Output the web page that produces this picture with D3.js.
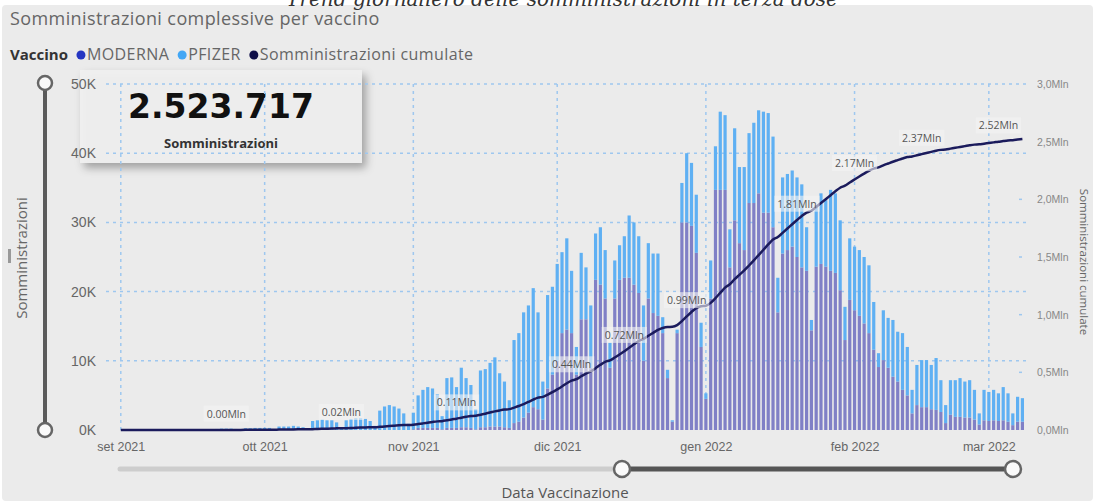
<!DOCTYPE html>
<html lang="it">
<head>
<meta charset="utf-8">
<title>Somministrazioni complessive per vaccino</title>
<script src="https://cdn.jsdelivr.net/npm/d3@7"></script>
<style>
  html, body { margin: 0; padding: 0; background: #fff; }
  svg { display: block; font-family: "Open Sans", "Noto Sans", sans-serif; }
</style>
</head>
<body>
<div id="chart"></div>
<script>
// ---- Dati (migliaia di dosi al giorno, dal 1 set 2021 all'8 mar 2022) ----
const startDate = new Date(2021, 8, 1);

const modernaValues = [
  // set
  0, 0, 0, 0, 0, 0, 0, 0, 0, 0, 0, 0, 0, 0, 0, 0, 0, 0, 0, 0, 0, 0, 0, 0, 0, 0, 0, 0, 0, 0,
  // ott
  0, 0, 0, 0, 0, 0, 0, 0, 0, 0, 0, 0, 0, 0, 0, 0, 0, 0, 0, 0, 0, 0, 0, 0, 0, 0, 0, 0, 0, 0, 0,
  // nov
  0.1, 0.3, 0.3, 0.3, 0.3, 0.3, 0.1, 0.3, 0.3, 0.3, 0.4, 0.4, 0.3, 0.1, 0.4, 0.4, 0.5, 0.5, 0.5, 0.4, 0.3,
  1.0, 1.2, 1.8, 2.5, 3.3, 3.0, 1.5, 6.0, 8.0,
  // dic
  10.0, 14.0, 14.5, 14.0, 8.0, 16.0, 16.0, 9.0, 21.7, 21.0, 19.0, 9.0, 19.0, 21.7, 22.0, 22.0, 21.0, 19.8, 10.0,
  19.0, 16.9, 16.5, 14.0, 7.5, 1.2, 14.0, 30.0, 30.0, 29.5, 25.6, 12.0,
  // gen
  4.5, 19.0, 34.7, 34.7, 34.7, 23.5, 30.3, 27.0, 26.0, 32.8, 32.8, 34.2, 31.4, 31.4, 29.3, 17.0,
  25.5, 26.0, 26.5, 25.0, 23.5, 23.0, 14.4, 23.6, 24.0, 23.6, 23.0, 22.7, 20.2, 13.0, 18.8,
  // feb
  17.3, 16.5, 15.4, 14.0, 11.6, 9.1, 10.1, 9.0, 7.7, 7.0, 5.8, 5.0, 2.4, 3.6, 3.3, 3.3, 3.0, 2.9, 2.6, 1.0,
  2.2, 1.9, 1.9, 1.8, 1.8, 1.5, 0.8, 1.4,
  // mar
  1.3, 1.4, 1.3, 1.4, 1.2, 0.7, 1.2, 1.2
];

const pfizerValues = [
  // set
  0, 0, 0, 0, 0, 0, 0, 0, 0, 0, 0, 0, 0, 0, 0, 0, 0, 0, 0,
  0.1, 0.15, 0.2, 0.2, 0.2, 0.15, 0.05, 0.25, 0.25, 0.3, 0.3,
  // ott
  0.3, 0.3, 0.1, 0.5, 0.5, 0.5, 0.6, 0.5, 0.4, 0.2, 1.3, 1.4, 1.5, 1.4, 1.4, 1.1, 0.4,
  1.4, 1.6, 1.7, 1.7, 1.6, 1.3, 0.6, 2.8, 3.4, 3.6, 3.4, 3.1, 2.4, 0.9,
  // nov
  2.4, 4.7, 5.5, 5.9, 5.7, 4.9, 1.9, 7.2, 7.3, 5.9, 8.6, 7.1, 6.2, 2.9, 8.2, 8.4, 9.2, 10.0, 7.7, 6.6, 4.0,
  12.0, 12.8, 15.2, 15.5, 17.2, 14.0, 5.5, 13.5, 12.7,
  // dic
  14.0, 11.7, 13.2, 9.0, 4.0, 9.6, 7.5, 9.0, 6.7, 8.3, 7.0, 3.6, 5.5, 5.0, 6.0, 9.0, 9.0, 8.2, 8.0,
  8.0, 8.6, 9.0, 2.3, 1.2, 0.2, 0.5, 5.7, 10.0, 9.1, 8.4, 3.5,
  // gen
  0.8, 5.5, 6.3, 11.3, 10.8, 5.5, 13.3, 11.0, 12.0, 10.1, 11.6, 12.0, 14.6, 14.4, 13.1, 5.0,
  11.0, 11.0, 11.0, 11.5, 12.0, 6.3, 1.5, 8.9, 10.2, 9.6, 11.7, 11.5, 10.1, 4.8, 8.9,
  // feb
  9.2, 9.5, 9.6, 9.8, 6.9, 2.0, 7.2, 7.2, 8.2, 7.2, 8.2, 7.0, 3.4, 5.8, 6.8, 6.8, 6.4, 7.5, 4.6, 2.6,
  5.0, 5.3, 5.6, 5.2, 5.4, 4.3, 1.6, 4.4,
  // mar
  4.2, 4.4, 4.0, 4.8, 4.1, 1.7, 3.6, 3.4
];

const seriesNames = ["MODERNA", "PFIZER"];
const seriesColors = ["#8080c6", "#5fb0f3"];
const legendNames = ["MODERNA", "PFIZER", "Somministrazioni cumulate"];
const legendColors = ["#2536c2", "#42a7f5", "#10104a"];

const yTicks = [0, 10, 20, 30, 40, 50];
const y2Ticks = [0, 500, 1000, 1500, 2000, 2500, 3000];

// etichette dati sulla linea cumulata
const labelDates = ["2021-09-23", "2021-10-17", "2021-11-10", "2021-12-04", "2021-12-15",
  "2021-12-28", "2022-01-20", "2022-02-01", "2022-02-15", "2022-03-03"];
const labelTexts = ["0.00Mln", "0.02Mln", "0.11Mln", "0.44Mln", "0.72Mln",
  "0.99Mln", "1.81Mln", "2.17Mln", "2.37Mln", "2.52Mln"];

const kpiTotal = "2.523.717";

const itLocale = d3.timeFormatLocale({
  dateTime: "%A %e %B %Y, %X", date: "%d/%m/%Y", time: "%H:%M:%S", periods: ["AM", "PM"],
  days: ["domenica", "lunedì", "martedì", "mercoledì", "giovedì", "venerdì", "sabato"],
  shortDays: ["dom", "lun", "mar", "mer", "gio", "ven", "sab"],
  months: ["gennaio", "febbraio", "marzo", "aprile", "maggio", "giugno", "luglio", "agosto",
    "settembre", "ottobre", "novembre", "dicembre"],
  shortMonths: ["gen", "feb", "mar", "apr", "mag", "giu", "lug", "ago", "set", "ott", "nov", "dic"]
});

class VaccineChart {
  constructor(containerId, options = {}) {
    this.container = d3.select(`#${containerId}`);
    this.options = {
      width: 1093,
      height: 501,
      left: 110,
      right: 1026,
      top: 84,
      bottom: 430,
      ...options
    };
    this.init();
  }

  init() {
    const o = this.options;
    this.container.html('');
    this.svg = this.container.append('svg')
      .attr('width', o.width)
      .attr('height', o.height);

    this.dates = d3.timeDay.range(startDate, d3.timeDay.offset(startDate, modernaValues.length));
    this.rows = this.dates.map((d, i) => ({ date: d, MODERNA: modernaValues[i], PFIZER: pfizerValues[i] }));
    this.cumulative = Array.from(d3.cumsum(this.rows, r => r.MODERNA + r.PFIZER));

    this.x = d3.scaleTime()
      .domain([new Date(2021, 7, 29, 18), new Date(2022, 2, 8, 18)])
      .range([o.left, o.right]);
    this.y = d3.scaleLinear().domain([0, 50]).range([o.bottom, o.top]);
    this.y2 = d3.scaleLinear().domain([0, 3000]).range([o.bottom, o.top]);

    this.drawFrame();
    this.drawLegend();
    this.drawKpi();
    this.drawGrid();
    this.drawBars();
    this.drawLine();
    this.drawAxes();
    this.drawSliders();
  }

  drawFrame() {
    const o = this.options;
    this.svg.append('rect')
      .attr('x', 2).attr('y', 5)
      .attr('width', o.width - 2).attr('height', o.height - 5)
      .attr('rx', 4)
      .attr('fill', '#ebebeb');

    // titolo della pagina, tagliato in alto come nell'originale
    this.svg.append('text')
      .attr('x', 562).attr('y', 6)
      .attr('text-anchor', 'middle')
      .style('font-family', '"DejaVu Serif", serif')
      .style('font-style', 'italic')
      .style('font-size', '20px')
      .attr('fill', '#333')
      .text('Trend giornaliero delle somministrazioni in terza dose');

    this.svg.append('text')
      .attr('x', 10).attr('y', 25)
      .style('font-size', '18px')
      .style('letter-spacing', '0.4px')
      .attr('fill', '#666')
      .text('Somministrazioni complessive per vaccino');
  }

  drawLegend() {
    const g = this.svg.append('g').attr('transform', 'translate(10,60)');
    const head = g.append('text')
      .style('font-size', '15px')
      .style('font-weight', 'bold')
      .attr('fill', '#333')
      .text('Vaccino');
    let cx = head.node().getComputedTextLength() + 13;
    legendNames.forEach((name, i) => {
      g.append('circle')
        .attr('cx', cx).attr('cy', -5).attr('r', 4.5)
        .attr('fill', legendColors[i]);
      const t = g.append('text')
        .attr('x', cx + 6)
        .style('font-size', '16px')
        .style('letter-spacing', '0.4px')
        .attr('fill', '#666')
        .text(name);
      cx += 6 + t.node().getComputedTextLength() + 13;
    });
  }

  drawKpi() {
    const defs = this.svg.append('defs');
    const f = defs.append('filter').attr('id', 'shadow')
      .attr('x', '-10%').attr('y', '-10%').attr('width', '130%').attr('height', '140%');
    f.append('feDropShadow')
      .attr('dx', 4).attr('dy', 5)
      .attr('stdDeviation', 4)
      .attr('flood-color', '#000')
      .attr('flood-opacity', 0.35);

    this.svg.append('rect')
      .attr('x', 80).attr('y', 70)
      .attr('width', 282).attr('height', 93)
      .attr('fill', '#f1f1f1')
      .attr('fill-opacity', 0.9)
      .attr('filter', 'url(#shadow)');

    this.svg.append('text')
      .attr('x', 221).attr('y', 118)
      .attr('text-anchor', 'middle')
      .style('font-family', '"DejaVu Sans", sans-serif')
      .style('font-weight', 'bold')
      .style('font-size', '33px')
      .attr('fill', '#111')
      .text(kpiTotal);

    this.svg.append('text')
      .attr('x', 221).attr('y', 148)
      .attr('text-anchor', 'middle')
      .style('font-weight', 'bold')
      .style('font-size', '13px')
      .attr('fill', '#333')
      .text('Somministrazioni');
  }

  drawGrid() {
    const o = this.options;
    const grid = this.svg.append('g').attr('class', 'grid')
      .attr('stroke', '#9ec7ef')
      .attr('stroke-width', 1.5)
      .attr('stroke-dasharray', '3,4');

    grid.selectAll('line.h')
      .data(yTicks.filter(t => t > 0))
      .join('line')
      .attr('class', 'h')
      .attr('x1', 106).attr('x2', o.right)
      .attr('y1', d => this.y(d)).attr('y2', d => this.y(d));

    this.months = d3.timeMonth.range(new Date(2021, 8, 1), new Date(2022, 2, 2));
    grid.selectAll('line.v')
      .data(this.months)
      .join('line')
      .attr('class', 'v')
      .attr('x1', d => this.x(d)).attr('x2', d => this.x(d))
      .attr('y1', o.top).attr('y2', o.bottom);

    // trattini dell'asse secondario
    grid.selectAll('line.t')
      .data(y2Ticks.filter(t => t > 0 && t < 2500))
      .join('line')
      .attr('class', 't')
      .attr('x1', o.right - 7).attr('x2', o.right)
      .attr('y1', d => this.y2(d)).attr('y2', d => this.y2(d));
  }

  drawBars() {
    const stacked = d3.stack().keys(seriesNames)(this.rows);
    const barW = 3.2;
    this.svg.append('g').attr('class', 'bars')
      .selectAll('g')
      .data(stacked)
      .join('g')
      .attr('fill', (d, i) => seriesColors[i])
      .selectAll('rect')
      .data(d => d)
      .join('rect')
      .attr('x', d => this.x(d.data.date) - barW / 2)
      .attr('width', barW)
      .attr('y', d => this.y(d[1]))
      .attr('height', d => Math.max(0, this.y(d[0]) - this.y(d[1])));
  }

  drawLine() {
    const line = d3.line()
      .x((d, i) => this.x(this.dates[i]))
      .y(d => this.y2(d))
      .curve(d3.curveMonotoneX);

    this.svg.append('path')
      .datum(this.cumulative)
      .attr('fill', 'none')
      .attr('stroke', '#1b1b5c')
      .attr('stroke-width', 2.5)
      .attr('d', line);

    // etichette sulla linea
    const parse = d3.timeParse('%Y-%m-%d');
    const labels = this.svg.append('g').attr('class', 'data-labels');
    labelDates.forEach((ds, k) => {
      const d = parse(ds);
      const i = d3.timeDay.count(startDate, d);
      const cx = this.x(d);
      const cy = this.y2(this.cumulative[i]) - 16;
      const g = labels.append('g');
      const bg = g.append('rect');
      const t = g.append('text')
        .attr('x', cx).attr('y', cy)
        .attr('dy', '0.35em')
        .attr('text-anchor', 'middle')
        .style('font-size', '10.5px')
        .attr('fill', '#555')
        .text(labelTexts[k]);
      const bb = t.node().getBBox();
      bg.attr('x', bb.x - 3).attr('y', bb.y - 1)
        .attr('width', bb.width + 6).attr('height', bb.height + 2)
        .attr('fill', '#f4f4f4').attr('fill-opacity', 0.6);
    });
  }

  drawAxes() {
    const o = this.options;

    const yAxis = this.svg.append('g')
      .attr('transform', 'translate(100,0)')
      .call(d3.axisLeft(this.y).tickValues(yTicks).tickSize(0).tickPadding(4).tickFormat(d => d + 'K'));
    yAxis.select('.domain').remove();
    yAxis.selectAll('text').style('font-size', '14px').attr('fill', '#666');

    const y2Axis = this.svg.append('g')
      .attr('transform', `translate(${o.right + 8},0)`)
      .call(d3.axisRight(this.y2).tickValues(y2Ticks).tickSize(0).tickPadding(3)
        .tickFormat(d => (d / 1000).toFixed(1).replace('.', ',') + 'Mln'));
    y2Axis.select('.domain').remove();
    y2Axis.selectAll('text').style('font-size', '10.5px').attr('fill', '#888');

    const fmt = itLocale.format('%b %Y');
    const xAxis = this.svg.append('g')
      .attr('transform', `translate(0,${o.bottom})`)
      .call(d3.axisBottom(this.x).tickValues(this.months).tickSize(0).tickPadding(12).tickFormat(fmt));
    xAxis.select('.domain').remove();
    xAxis.selectAll('text').style('font-size', '12.5px').attr('fill', '#666');

    this.svg.append('text')
      .attr('transform', 'translate(27,258) rotate(-90)')
      .attr('text-anchor', 'middle')
      .style('font-size', '15px')
      .attr('fill', '#666')
      .text('Somministrazioni');

    this.svg.append('text')
      .attr('transform', 'translate(1080,262) rotate(90)')
      .attr('text-anchor', 'middle')
      .style('font-size', '11.5px')
      .attr('fill', '#666')
      .text('Somministrazioni cumulate');

    this.svg.append('rect')
      .attr('x', 8).attr('y', 249).attr('width', 3).attr('height', 14)
      .attr('fill', '#999');

    this.svg.append('text')
      .attr('x', 565).attr('y', 498)
      .attr('text-anchor', 'middle')
      .style('font-size', '15px')
      .attr('fill', '#555')
      .text('Data Vaccinazione');
  }

  drawSliders() {
    const o = this.options;
    const s = this.svg.append('g').attr('class', 'sliders');

    // slider verticale
    s.append('line')
      .attr('x1', 45).attr('x2', 45).attr('y1', o.top - 1).attr('y2', o.bottom)
      .attr('stroke', '#5a5a5a').attr('stroke-width', 4);

    // slider orizzontale
    s.append('line')
      .attr('x1', 120).attr('x2', 622).attr('y1', 469).attr('y2', 469)
      .attr('stroke', '#cdcdcd').attr('stroke-width', 5).attr('stroke-linecap', 'round');
    s.append('line')
      .attr('x1', 622).attr('x2', 1013).attr('y1', 469).attr('y2', 469)
      .attr('stroke', '#555').attr('stroke-width', 5);

    const handles = [[45, o.top - 1, 7], [45, o.bottom, 7], [622, 469, 8], [1013, 469, 8]];
    s.selectAll('circle')
      .data(handles)
      .join('circle')
      .attr('cx', d => d[0]).attr('cy', d => d[1]).attr('r', d => d[2])
      .attr('fill', '#fafafa')
      .attr('stroke', '#666')
      .attr('stroke-width', 2.5);
  }
}

new VaccineChart('chart');
</script>
</body>
</html>
